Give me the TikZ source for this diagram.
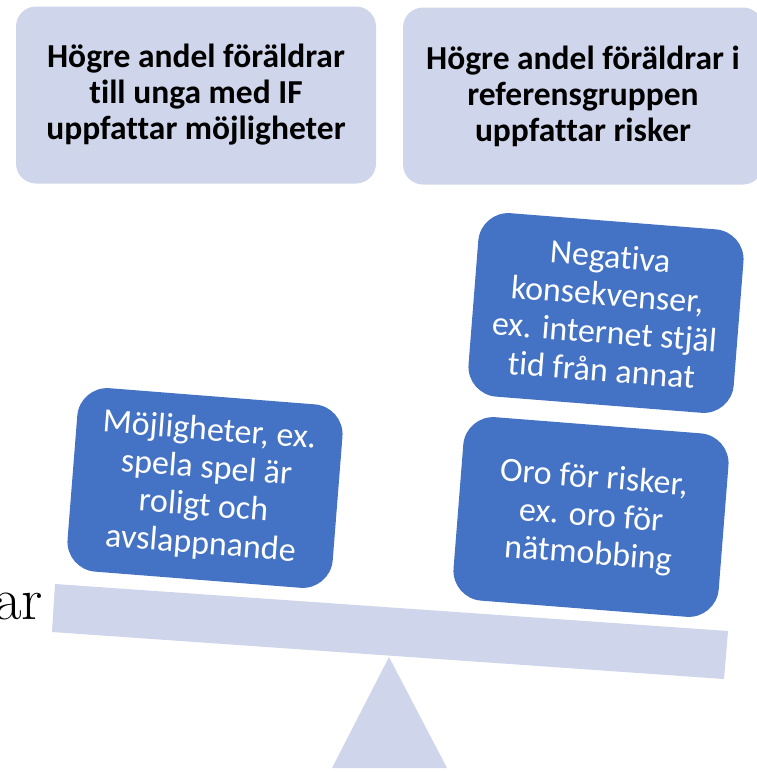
\documentclass[tikz,border=0pt]{standalone}
\usepackage{fontspec}
\newfontfamily\calibri[Ligatures={NoCommon,NoContextual}]{Carlito}
\usepackage{tikz}
\definecolor{lav}{HTML}{CFD5EA}
\definecolor{blu}{HTML}{4472C4}

\begin{document}
\begin{tikzpicture}[x=1pt,y=-1pt,
    head/.style={fill=lav, rounded corners=20pt, minimum width=360pt, minimum height=177pt,
        align=center, font=\calibri\bfseries\fontsize{33.5}{36}\selectfont},
    pan/.style={fill=blu, text=white, rounded corners=30pt, minimum width=266pt, minimum height=184pt,
        align=center, rotate=-4.5, font=\calibri\fontsize{34}{38}\selectfont}]
    \useasboundingbox (0,0) rectangle (757,772);

    % fulcrum and beam
    \fill[lav] (389,657) -- (447,768) -- (332,768) -- cycle;
    \fill[lav] (55,584) -- (728,631) -- (724,679) -- (52,632) -- cycle;

    \node[head](0) at (196,95) {Högre andel föräldrar\\till unga med IF\\uppfattar möjligheter};
    \node[head](1) at (583,96) {Högre andel föräldrar i\\referensgruppen\\uppfattar risker};

    \node[pan](2) at (205,488) {Möjligheter, ex.\\spela spel är\\roligt och\\avslappnande};
    \node[pan](3) at (606,313) {Negativa\\konsekvenser,\\ex. internet stjäl\\tid från annat};
    \node[pan](4) at (591,517) {Oro för risker,\\ex. oro för\\nätmobbing};

    \node[anchor=base east, inner sep=0pt, font=\fontsize{60}{64}\selectfont](5) at (43,619) {ar};
\end{tikzpicture}
\end{document}
